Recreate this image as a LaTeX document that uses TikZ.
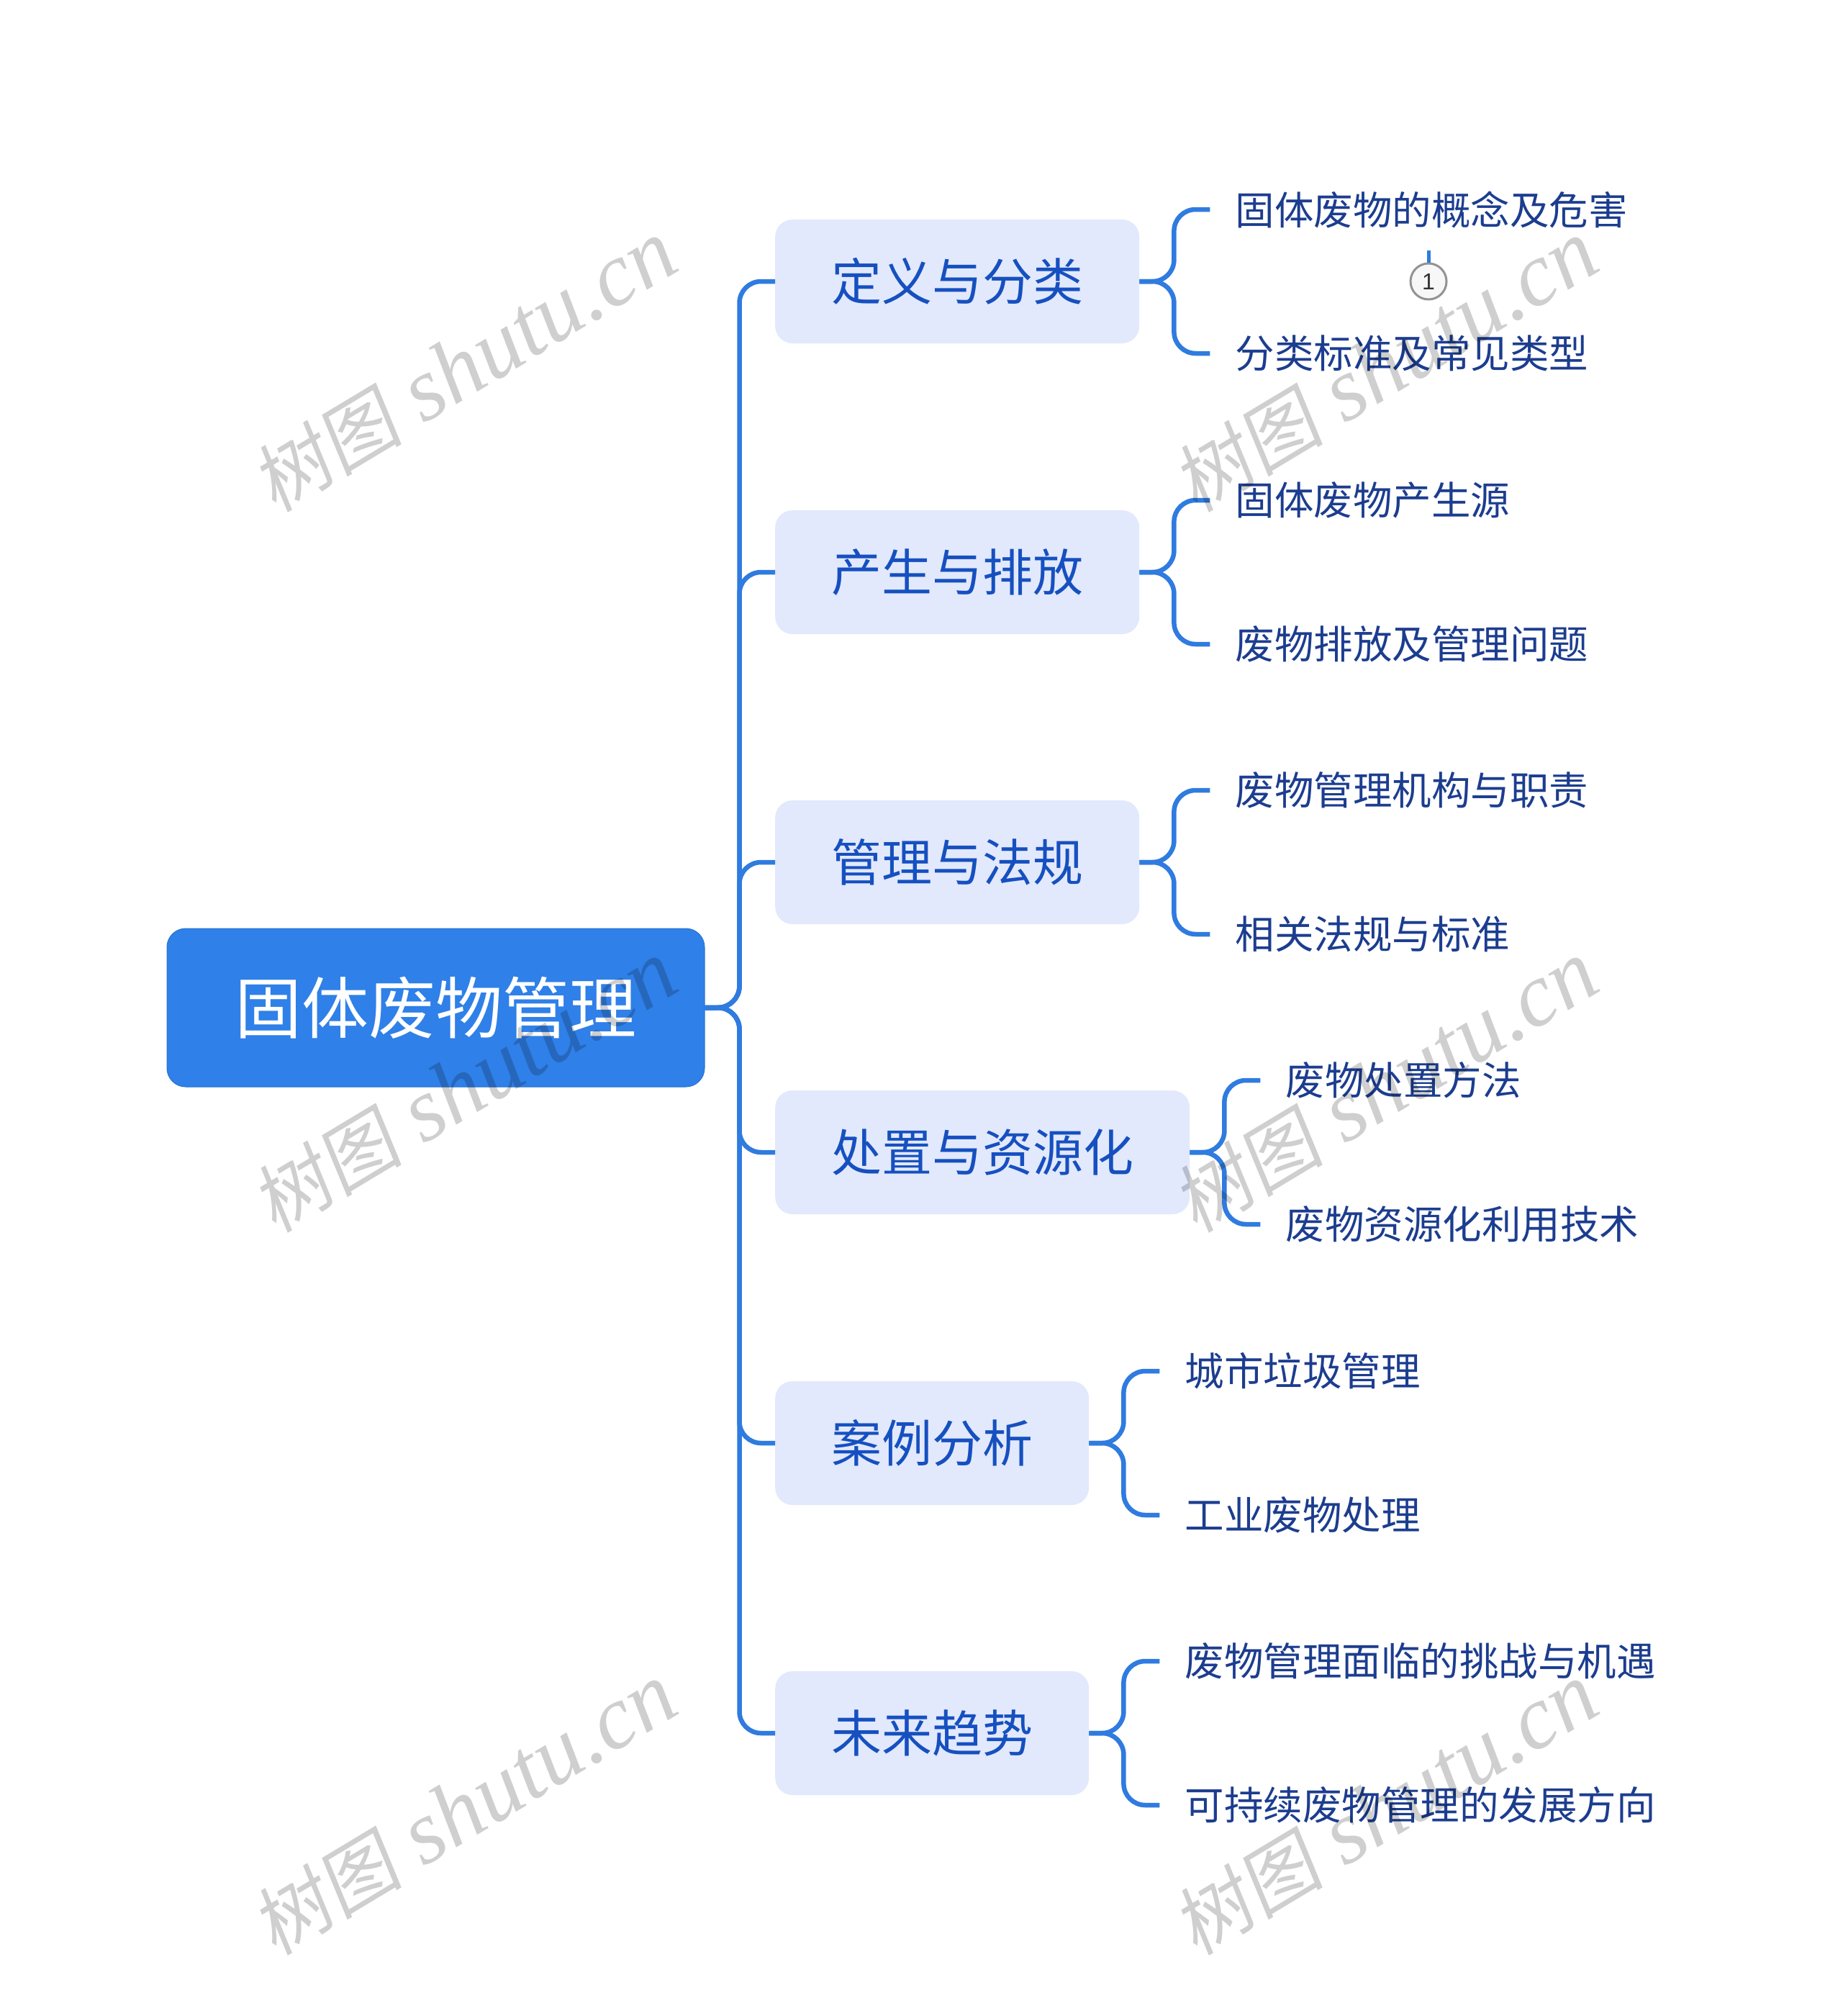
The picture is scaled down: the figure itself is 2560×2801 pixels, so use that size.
\documentclass[tikz,border=0pt]{standalone}
\usepackage{fontspec}
\newfontfamily\cjk{Noto Sans CJK SC}
\newfontfamily\wmcjk[FakeSlant=0.15]{Noto Sans CJK SC}
\newfontfamily\wmlat{Liberation Serif}
\newfontfamily\badgefont{Liberation Sans}
\usetikzlibrary{calc}
\definecolor{linec}{HTML}{2F7BE0}
\definecolor{rootc}{HTML}{2F80E8}
\definecolor{lonefill}{HTML}{E2E9FC}
\definecolor{lonetext}{HTML}{1650C0}
\definecolor{ltwotext}{HTML}{1C3D8F}
\tikzset{
  rootbox/.style={fill=rootc, draw=rootc!90!black, line width=1pt, rounded corners=26pt, minimum width=747pt, minimum height=220pt, inner sep=0pt, text=white, font=\cjk\fontsize{93}{93}\selectfont},
  lonebox/.style={fill=lonefill, rounded corners=24pt, minimum height=172pt, inner xsep=78pt, inner ysep=0pt, text=lonetext, font=\cjk\fontsize{70}{70}\selectfont, anchor=west},
  ltwo/.style={inner xsep=35pt, inner ysep=0pt, text=ltwotext, font=\cjk\fontsize{54.5}{54.5}\selectfont, anchor=west},
  conn/.style={draw=linec, line width=6.5pt, rounded corners=30pt},
  wmark/.style={rotate=31, text=black, text opacity=0.19, inner sep=0pt},
  badge/.style={circle, draw=gray!85, line width=3pt, fill=gray!6, minimum size=50pt, inner sep=0pt, text=black!80, font=\badgefont\fontsize{32}{32}\selectfont}
}
\begin{document}
\begin{tikzpicture}[x=1pt,y=-1pt]
\useasboundingbox[fill=white] (0,0) rectangle (2560,2801);

\node[rootbox] (root) at (605.5,1400) {固体废物管理};

\node[lonebox] (a) at (1077,391) {定义与分类};
\node[lonebox] (b) at (1077,795) {产生与排放};
\node[lonebox] (c) at (1077,1198) {管理与法规};
\node[lonebox] (d) at (1077,1601) {处置与资源化};
\node[lonebox] (e) at (1077,2005) {案例分析};
\node[lonebox] (f) at (1077,2408) {未来趋势};

\foreach \n in {a,b,c,d,e,f}{
  \draw[conn] (root.east) -- ++(48,0) |- (\n.west);
}

\node[ltwo] (a1) at ($(a.east)+(98,-100)$) {固体废物的概念及危害};
\node[ltwo] (a2) at ($(a.east)+(98,100)$) {分类标准及常见类型};
\node[ltwo] (b1) at ($(b.east)+(98,-100)$) {固体废物产生源};
\node[ltwo] (b2) at ($(b.east)+(98,100)$) {废物排放及管理问题};
\node[ltwo] (c1) at ($(c.east)+(98,-100)$) {废物管理机构与职责};
\node[ltwo] (c2) at ($(c.east)+(98,100)$) {相关法规与标准};
\node[ltwo] (d1) at ($(d.east)+(98,-100)$) {废物处置方法};
\node[ltwo] (d2) at ($(d.east)+(98,100)$) {废物资源化利用技术};
\node[ltwo] (e1) at ($(e.east)+(98,-100)$) {城市垃圾管理};
\node[ltwo] (e2) at ($(e.east)+(98,100)$) {工业废物处理};
\node[ltwo] (f1) at ($(f.east)+(98,-100)$) {废物管理面临的挑战与机遇};
\node[ltwo] (f2) at ($(f.east)+(98,100)$) {可持续废物管理的发展方向};

\foreach \p/\c in {a/a1,a/a2,b/b1,b/b2,c/c1,c/c2,d/d1,d/d2,e/e1,e/e2,f/f1,f/f2}{
  \draw[conn] (\p.east) -- ++(48,0) |- (\c.west);
}

\node[badge] (m) at (1985,391) {1};
\draw[draw=linec, line width=5pt] (m.north) -- ++(0,-17);

\foreach \x/\y in {645/509,645/1510,645/2514,1925/509,1925/1510,1925/2514}{
  \node[wmark] at (\x,\y) {{\wmcjk\fontsize{105}{105}\selectfont 树图}{\wmlat\itshape\fontsize{125}{125}\selectfont\ shutu.cn}};
}
\end{tikzpicture}
\end{document}
